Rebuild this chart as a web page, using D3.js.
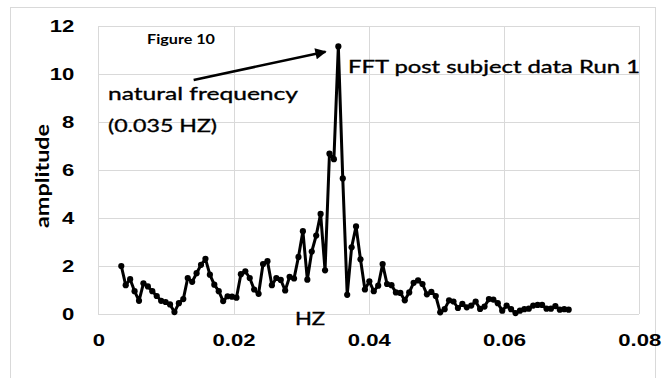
<!DOCTYPE html>
<html lang="en">
<head>
<meta charset="UTF-8">
<title>FFT post subject data Run 1</title>
<script src="https://cdn.jsdelivr.net/npm/d3@7"></script>
<style>
    body { margin: 0; background: #fff; }
    svg { display: block; font-family: Lato, "Open Sans", sans-serif; }
    .grid line { stroke: #d9d9d9; stroke-width: 1px; shape-rendering: crispEdges; }
    .curve { fill: none; stroke: #000; stroke-width: 3px; stroke-linejoin: round; }
    .tick text { font-weight: bold; font-size: 17px; fill: #000; }
    .note { fill: #000; stroke: #000; stroke-width: 0.35px; }
</style>
</head>
<body>
<div id="chart"></div>
<script>
// frequency bins (Hz)
var freq = [
    0.003400, 0.004055, 0.004710, 0.005365, 0.006020, 0.006675, 0.007330, 0.007985, 0.008640, 0.009295,
    0.009950, 0.010605, 0.011260, 0.011915, 0.012570, 0.013225, 0.013880, 0.014535, 0.015190, 0.015845,
    0.016500, 0.017155, 0.017810, 0.018465, 0.019120, 0.019775, 0.020430, 0.021085, 0.021740, 0.022395,
    0.023050, 0.023705, 0.024360, 0.025015, 0.025670, 0.026325, 0.026980, 0.027635, 0.028290, 0.028945,
    0.029600, 0.030255, 0.030910, 0.031565, 0.032220, 0.032875, 0.033530, 0.034185, 0.034840, 0.035495,
    0.036150, 0.036805, 0.037460, 0.038115, 0.038770, 0.039425, 0.040080, 0.040735, 0.041390, 0.042045,
    0.042700, 0.043355, 0.044010, 0.044665, 0.045320, 0.045975, 0.046630, 0.047285, 0.047940, 0.048595,
    0.049250, 0.049905, 0.050560, 0.051215, 0.051870, 0.052525, 0.053180, 0.053835, 0.054490, 0.055145,
    0.055800, 0.056455, 0.057110, 0.057765, 0.058420, 0.059075, 0.059730, 0.060385, 0.061040, 0.061695,
    0.062350, 0.063005, 0.063660, 0.064315, 0.064970, 0.065625, 0.066280, 0.066935, 0.067590, 0.068245,
    0.068900, 0.069555
];

// FFT amplitude at each bin
var amplitude = [
    2.00, 1.20, 1.45, 0.95, 0.55, 1.28, 1.15, 0.95, 0.75, 0.55,
    0.50, 0.40, 0.08, 0.45, 0.62, 1.50, 1.34, 1.70, 2.05, 2.30,
    1.64, 1.22, 0.95, 0.54, 0.74, 0.72, 0.68, 1.66, 1.78, 1.50,
    1.02, 0.84, 2.08, 2.20, 1.20, 1.50, 1.42, 0.98, 1.55, 1.48,
    2.38, 3.45, 1.43, 2.60, 3.27, 4.17, 1.82, 6.68, 6.45, 11.15,
    5.65, 0.80, 2.78, 3.65, 2.28, 1.02, 1.36, 0.95, 1.18, 2.08,
    1.25, 1.20, 0.90, 0.88, 0.57, 0.90, 1.30, 1.40, 1.25, 0.82,
    0.92, 0.75, 0.07, 0.20, 0.57, 0.52, 0.25, 0.42, 0.28, 0.35,
    0.52, 0.21, 0.31, 0.62, 0.60, 0.45, 0.14, 0.35, 0.20, 0.04,
    0.14, 0.20, 0.22, 0.35, 0.38, 0.38, 0.22, 0.22, 0.33, 0.18,
    0.20, 0.18
];

var xTicks = [0, 0.02, 0.04, 0.06, 0.08];
var yTicks = [0, 2, 4, 6, 8, 10, 12];

// arrow from the annotation to the peak, in data units [Hz, amplitude]
var arrowFrom = [0.0141, 9.75];
var arrowTo = [0.0336, 10.93];

var width = 664, height = 378;
var stretch = 1.3; // text in the picture is drawn wide

var svg = d3.select("#chart").append("svg")
    .attr("width", width)
    .attr("height", height);

// outer chart frame
svg.append("rect")
    .attr("x", 10.5).attr("y", 7.5)
    .attr("width", 645).attr("height", 390)
    .attr("fill", "#fff")
    .attr("stroke", "#d9d9d9");

var x = d3.scaleLinear().domain([0, 0.08]).range([98.3, 639.3]);
var y = d3.scaleLinear().domain([0, 12]).range([314, 26]);

// gridlines
var grid = svg.append("g").attr("class", "grid");
grid.selectAll(".h").data(yTicks).enter().append("line")
    .attr("x1", x(0)).attr("x2", x(0.08))
    .attr("y1", function(d) { return Math.round(y(d)) + 0.5; })
    .attr("y2", function(d) { return Math.round(y(d)) + 0.5; });
grid.selectAll(".v").data(xTicks).enter().append("line")
    .attr("y1", y(0)).attr("y2", y(12))
    .attr("x1", function(d) { return Math.round(x(d)) + 0.5; })
    .attr("x2", function(d) { return Math.round(x(d)) + 0.5; });

// axes (labels only)
var yAxis = svg.append("g")
    .attr("transform", "translate(" + x(0) + ",0)")
    .call(d3.axisLeft(y).tickValues(yTicks).tickSize(0).tickPadding(24).tickFormat(d3.format("d")));
yAxis.select(".domain").remove();

var xAxis = svg.append("g")
    .attr("transform", "translate(0," + y(0) + ")")
    .call(d3.axisBottom(x).tickValues(xTicks).tickSize(0).tickPadding(20)
        .tickFormat(function(d) { return d === 0 ? "0" : d.toFixed(2); }));
xAxis.select(".domain").remove();

// the spectrum
var line = d3.line()
    .x(function(d, i) { return x(freq[i]); })
    .y(function(d) { return y(d); });

svg.append("path")
    .datum(amplitude)
    .attr("class", "curve")
    .attr("d", line);

svg.selectAll(".dot").data(amplitude).enter().append("circle")
    .attr("class", "dot")
    .attr("cx", function(d, i) { return x(freq[i]); })
    .attr("cy", function(d) { return y(d); })
    .attr("r", 3.1)
    .attr("fill", "#000");

// axis titles
svg.append("text")
    .attr("class", "ytitle")
    .attr("transform", "translate(49,176) rotate(-90)")
    .attr("text-anchor", "middle")
    .style("font-size", "18px")
    .style("font-weight", "bold")
    .text("amplitude");

svg.append("text")
    .attr("class", "xtitle note")
    .attr("x", 310).attr("y", 325)
    .attr("text-anchor", "middle")
    .style("font-size", "17px")
    .text("HZ");

// annotations
svg.append("text")
    .attr("x", 147).attr("y", 44)
    .style("font-size", "13px")
    .style("font-weight", "bold")
    .attr("textLength", 68).attr("lengthAdjust", "spacingAndGlyphs")
    .text("Figure 10");

svg.append("text")
    .attr("class", "note")
    .attr("x", 108).attr("y", 100)
    .style("font-size", "18px")
    .attr("textLength", 190).attr("lengthAdjust", "spacingAndGlyphs")
    .text("natural frequency");

svg.append("text")
    .attr("class", "note")
    .attr("x", 108).attr("y", 132)
    .style("font-size", "18px")
    .attr("textLength", 109).attr("lengthAdjust", "spacingAndGlyphs")
    .text("(0.035 HZ)");

svg.append("text")
    .attr("class", "note")
    .attr("x", 348).attr("y", 73)
    .style("font-size", "17px")
    .attr("textLength", 292).attr("lengthAdjust", "spacingAndGlyphs")
    .text("FFT post subject data Run 1");

// arrow
svg.append("defs").append("marker")
    .attr("id", "head")
    .attr("viewBox", "0 0 10 10")
    .attr("refX", 9).attr("refY", 5)
    .attr("markerWidth", 5).attr("markerHeight", 4.5)
    .attr("orient", "auto")
    .append("path")
    .attr("d", "M0,0 L10,5 L0,10 Z")
    .attr("fill", "#000");

svg.append("line")
    .attr("x1", x(arrowFrom[0])).attr("y1", y(arrowFrom[1]))
    .attr("x2", x(arrowTo[0])).attr("y2", y(arrowTo[1]))
    .attr("stroke", "#000")
    .attr("stroke-width", 2.5)
    .attr("marker-end", "url(#head)");

// widen tick labels and titles like the picture
svg.selectAll(".tick text, .ytitle, .xtitle").each(function() {
    var w = this.getComputedTextLength();
    d3.select(this).attr("textLength", w * stretch).attr("lengthAdjust", "spacingAndGlyphs");
});
</script>
</body>
</html>
